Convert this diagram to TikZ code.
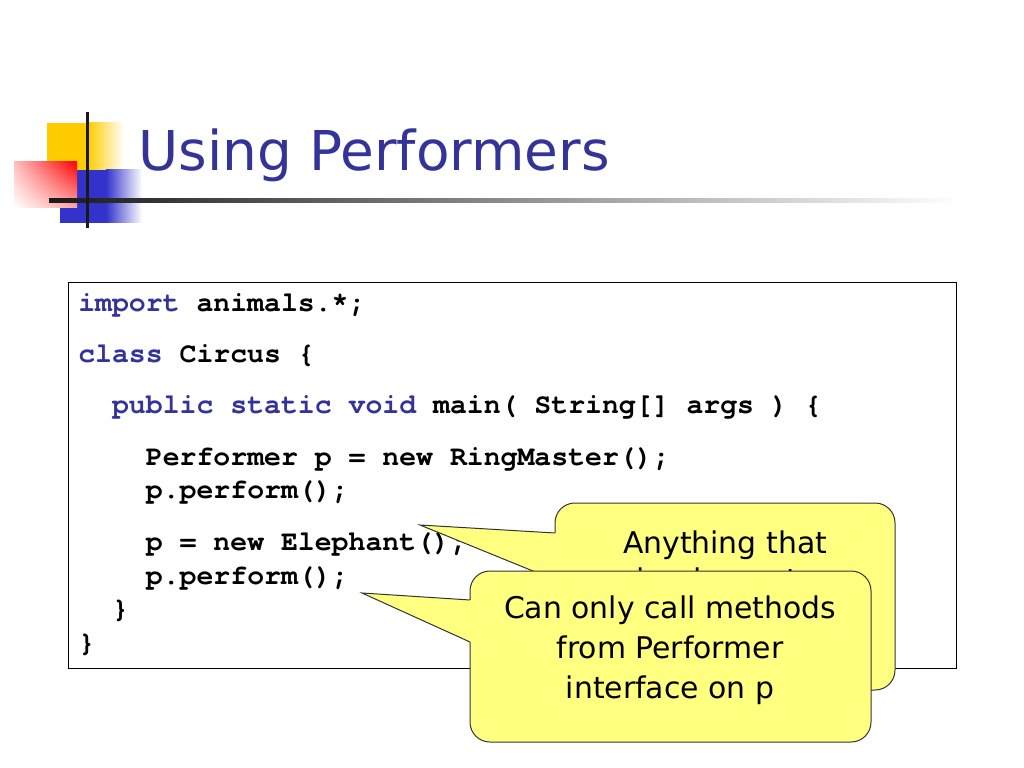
\documentclass[tikz,border=0pt]{standalone}
\usepackage{fontspec}
\setmainfont{DejaVu Sans}
\newfontfamily\codefont{TeX Gyre Cursor}
\usepackage{xcolor}
\usepackage{tikz}
\usetikzlibrary{positioning, shadings}

\definecolor{bleutitre}{HTML}{333399}
\definecolor{bleucle}{HTML}{333399}
\definecolor{jaunebulle}{HTML}{FFFF80}
\definecolor{jaunelogo}{HTML}{FFCC00}
\definecolor{bleulogo}{HTML}{3333CC}
\newcommand{\motcle}[1]{\textcolor{bleucle}{#1}}

\begin{document}
\begin{tikzpicture}[x=0.703125pt, y=-0.703125pt,
    ligne/.style={anchor=base west, inner sep=0pt, font=\codefont\bfseries\fontsize{19.8}{24}\selectfont},
    bulle/.style={draw=black!80, fill=jaunebulle, line width=0.7pt, rounded corners=14pt},
    pointe/.style={draw=black!80, line width=0.7pt},
    texte/.style={anchor=base, inner sep=0pt, font=\fontsize{21}{25}\selectfont}]

        \useasboundingbox (0,0) rectangle (1024,768);

        % Logo
        \fill[jaunelogo] (47,123) rectangle (88,170);
        \shade[left color=jaunelogo, right color=white] (88,123) rectangle (124,170);
        \fill[bleulogo] (60,170) rectangle (106,223);
        \shade[left color=bleulogo, right color=white] (106,170) rectangle (142,223);
        \shade[upper left=red!25, upper right=red, lower left=white, lower right=red!35] (14,162) rectangle (77,208);
        \shade[left color=black!90, right color=white] (49,199) rectangle (960,203);
        \fill[black!90] (85.5,112) rectangle (88.5,228);

        % Titre
        \node [anchor=base west, inner sep=0pt, text=bleutitre, font=\fontsize{38.6}{46}\selectfont] (titre) at (138,171) {Using Performers};

        % Code
        \draw [line width=0.7pt, fill=white] (68,282) rectangle (956,668);
        \node [ligne] (l1) at (78,311) {\motcle{import} animals.*;};
        \node [ligne] (l2) at (78,362) {\motcle{class} Circus \{};
        \node [ligne] (l3) at (111.8,413) {\motcle{public static void} main( String[] args ) \{};
        \node [ligne] (l4) at (145.6,465) {Performer p = new RingMaster();};
        \node [ligne] (l5) at (145.6,498) {p.perform();};
        \node [ligne] (l6) at (145.6,550) {p = new Elephant();};
        \node [ligne] (l7) at (145.6,584) {p.perform();};
        \node [ligne] (l8) at (111.8,617) {\}};
        \node [ligne] (l9) at (78,651) {\}};

        % Bulle 1
        \coordinate (pointe1) at (420,525);
        \path [bulle] (555,503) rectangle (895,690);
        \fill [jaunebulle] (558,533) -- (555,533) -- (pointe1) -- (555,580) -- (558,580) -- cycle;
        \draw [pointe] (555,533) -- (pointe1) -- (555,580);
        \node [texte] (b1a) at (725,553) {Anything that};
        \node [texte] (b1b) at (725,590) {implements};

        % Bulle 2
        \coordinate (pointe2) at (362,593);
        \path [bulle] (470,571) rectangle (871,742);
        \fill [jaunebulle] (473,600) -- (470,600) -- (pointe2) -- (470,642) -- (473,642) -- cycle;
        \draw [pointe] (470,600) -- (pointe2) -- (470,642);
        \node [texte] (b2a) at (670,618) {Can only call methods};
        \node [texte] (b2b) at (670,658) {from Performer};
        \node [texte] (b2c) at (670,698) {interface on p};

\end{tikzpicture}
\end{document}
